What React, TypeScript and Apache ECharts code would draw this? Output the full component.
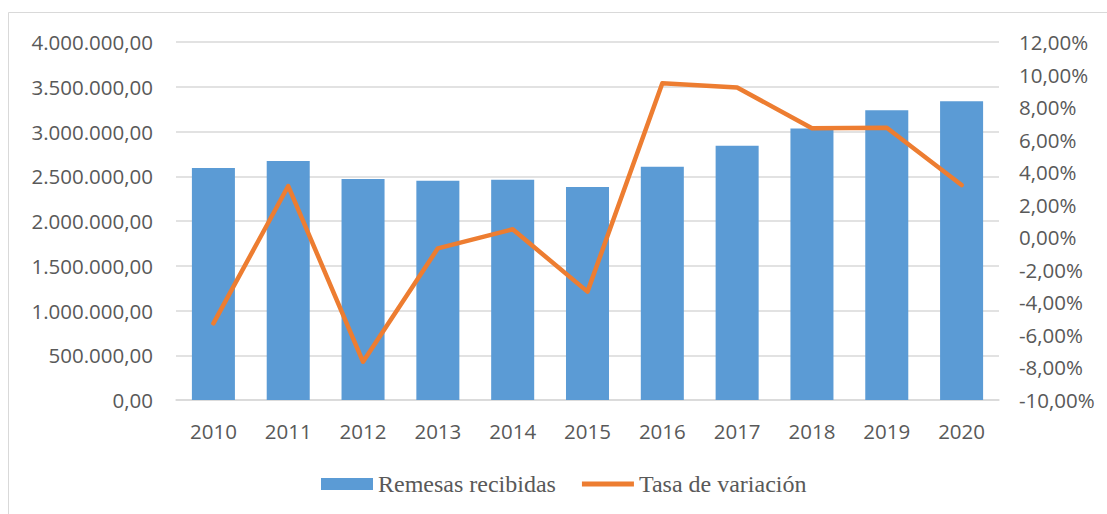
import React, { useEffect, useRef } from "react";
import * as echarts from "echarts";

const years = ["2010", "2011", "2012", "2013", "2014", "2015", "2016", "2017", "2018", "2019", "2020"];
const remesas = [2592000, 2670000, 2469000, 2450000, 2461000, 2380000, 2607000, 2841000, 3033000, 3237000, 3337000];
const tasa = [-5.29, 3.15, -7.65, -0.68, 0.49, -3.34, 9.46, 9.21, 6.7, 6.73, 3.21];

const leftMin = 0;
const leftMax = 4000000;
const leftInterval = 500000;
const rightMin = -10;
const rightMax = 12;
const rightInterval = 2;

function fmtThousands(v: number): string {
  const s = Math.round(v).toString();
  return s.replace(/\B(?=(\d{3})+(?!\d))/g, ".") + ",00";
}

function fmtPct(v: number): string {
  return v.toFixed(2).replace(".", ",") + "%";
}

export default function App() {
  const ref = useRef<HTMLDivElement>(null);
  useEffect(() => {
    if (!ref.current) return;
    const chart = echarts.init(ref.current, undefined, { renderer: "svg" });
    const labelFont = "'Open Sans', sans-serif";
    const labelColor = "#595959";
    chart.setOption({
      animation: false,
      backgroundColor: "#ffffff",
      graphic: [
        {
          type: "rect",
          shape: { x: 8.5, y: 12.5, width: 1300, height: 700 },
          style: { fill: "none", stroke: "#D9D9D9", lineWidth: 1 },
          silent: true,
        },
      ],
      grid: { left: 176, right: 108, top: 42, bottom: 114 },
      legend: {
        left: 316,
        top: 467,
        itemWidth: 52,
        itemHeight: 12,
        itemGap: 26,
        textStyle: { fontFamily: "'Liberation Serif', serif", fontSize: 24, color: labelColor },
        data: [
          { name: "Remesas recibidas", icon: "rect" },
          { name: "Tasa de variación", icon: "path://M0,0 L52,0 L52,5 L0,5 Z" },
        ],
      },
      xAxis: {
        type: "category",
        data: years,
        axisTick: { show: false },
        axisLine: { lineStyle: { color: "#D9D9D9", width: 1.5 } },
        axisLabel: { color: labelColor, fontFamily: labelFont, fontSize: 20.5, margin: 20 },
      },
      yAxis: [
        {
          type: "value",
          min: leftMin,
          max: leftMax,
          interval: leftInterval,
          axisLine: { show: false },
          axisTick: { show: false },
          splitLine: { lineStyle: { color: "#D9D9D9", width: 1.5 } },
          axisLabel: {
            color: labelColor,
            fontFamily: labelFont,
            fontSize: 20.5,
            margin: 23,
            formatter: (v: number) => fmtThousands(v),
          },
        },
        {
          type: "value",
          min: rightMin,
          max: rightMax,
          interval: rightInterval,
          axisLine: { show: false },
          axisTick: { show: false },
          splitLine: { show: false },
          axisLabel: {
            color: labelColor,
            fontFamily: labelFont,
            fontSize: 20.5,
            margin: 20,
            formatter: (v: number) => fmtPct(v),
          },
        },
      ],
      series: [
        {
          name: "Remesas recibidas",
          type: "bar",
          data: remesas,
          barWidth: "57.5%",
          itemStyle: { color: "#5B9BD5" },
          yAxisIndex: 0,
        },
        {
          name: "Tasa de variación",
          type: "line",
          data: tasa,
          yAxisIndex: 1,
          symbol: "none",
          lineStyle: { color: "#ED7D31", width: 4.5, cap: "round", join: "round" },
          itemStyle: { color: "#ED7D31" },
        },
      ],
    });
    return () => chart.dispose();
  }, []);
  return (
    <div
      ref={ref}
      style={{ position: "absolute", left: 0, top: 0, width: 1107, height: 514 }}
    />
  );
}
